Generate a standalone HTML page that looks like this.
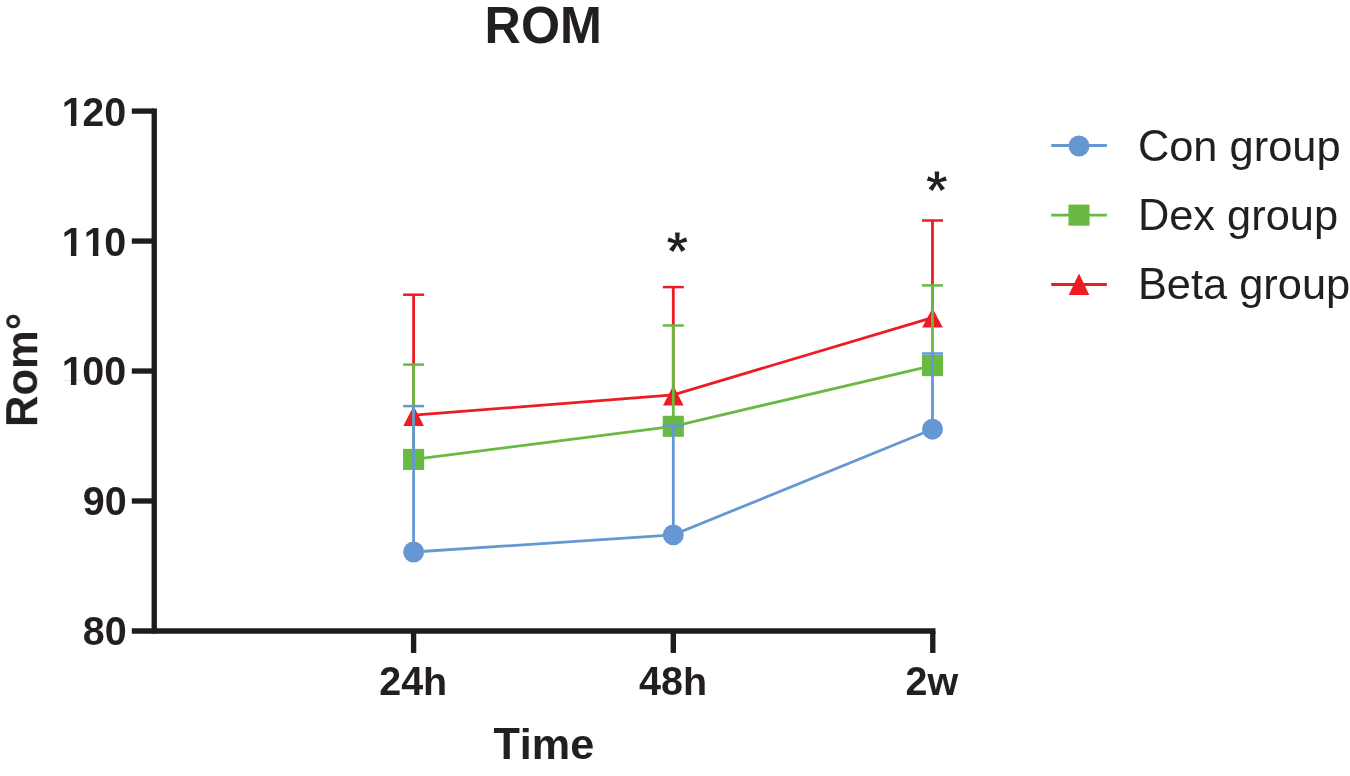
<!DOCTYPE html>
<html>
<head>
<meta charset="utf-8">
<title>ROM</title>
<style>
  html, body { margin: 0; padding: 0; background: #ffffff; }
  body { width: 1350px; height: 776px; overflow: hidden; font-family: "Liberation Sans", sans-serif; }
  svg { display: block; position: absolute; left: 0; top: 0; }
  text { font-family: "Liberation Sans", sans-serif; fill: #231f20; font-kerning: none; }
  .b text { font-weight: bold; }
</style>
</head>
<body>
<svg width="1350" height="776" viewBox="0 0 1350 776">
  <rect x="0" y="0" width="1350" height="776" fill="#ffffff"/>

  <!-- Beta group (red) -->
  <g stroke="#ed1c24" fill="none" stroke-width="2.8">
    <polyline points="413.6,415.2 673.3,394.8 932.5,317.6"/>
    <line x1="413.6" y1="415.2" x2="413.6" y2="294.7"/>
    <line x1="673.3" y1="394.8" x2="673.3" y2="287.1"/>
    <line x1="932.5" y1="317.6" x2="932.5" y2="220.5"/>
    <g stroke-width="2.5">
      <line x1="403.1" y1="294.7" x2="424.1" y2="294.7"/>
      <line x1="662.8" y1="287.1" x2="683.8" y2="287.1"/>
      <line x1="922" y1="220.5" x2="943" y2="220.5"/>
    </g>
  </g>
  <g fill="#ed1c24">
    <polygon points="413.6,406 423.9,426 403.3,426"/>
    <polygon points="673.3,385.5 683.6,405.6 663,405.6"/>
    <polygon points="932.5,308 942.8,327.6 922.2,327.6"/>
  </g>
  <!-- Dex group (green) -->
  <g stroke="#69b942" fill="none" stroke-width="2.8">
    <polyline points="413.6,459.4 673.3,426.3 932.5,365.6"/>
    <line x1="413.6" y1="459.4" x2="413.6" y2="364.6"/>
    <line x1="673.3" y1="426.3" x2="673.3" y2="325.5"/>
    <line x1="932.5" y1="365.6" x2="932.5" y2="285.4"/>
    <g stroke-width="2.5">
      <line x1="403.1" y1="364.6" x2="424.1" y2="364.6"/>
      <line x1="662.8" y1="325.5" x2="683.8" y2="325.5"/>
      <line x1="922" y1="285.4" x2="943" y2="285.4"/>
    </g>
  </g>
  <g fill="#69b942">
    <rect x="403.05" y="448.85" width="21.1" height="21.1"/>
    <rect x="662.75" y="415.75" width="21.1" height="21.1"/>
    <rect x="921.95" y="355.05" width="21.1" height="21.1"/>
  </g>
  <!-- Con group (blue) -->
  <g stroke="#6598d2" fill="none" stroke-width="2.8">
    <polyline points="413.6,552 673.3,534.9 932.5,429.2"/>
    <line x1="413.6" y1="552" x2="413.6" y2="406.1"/>
    <line x1="673.3" y1="534.9" x2="673.3" y2="425.7"/>
    <line x1="932.5" y1="429.2" x2="932.5" y2="353.5"/>
    <g stroke-width="2.5">
      <line x1="403.1" y1="406.1" x2="424.1" y2="406.1"/>
      <line x1="662.8" y1="425.7" x2="683.8" y2="425.7"/>
      <line x1="922" y1="353.5" x2="943" y2="353.5"/>
    </g>
  </g>
  <g fill="#6598d2">
    <circle cx="413.6" cy="552" r="10.45"/>
    <circle cx="673.3" cy="534.9" r="10.45"/>
    <circle cx="932.5" cy="429.2" r="10.45"/>
  </g>
  <!-- Axes -->
  <g stroke="#1f1c1d" stroke-width="5.35" fill="none">
    <line x1="154.25" y1="108.45" x2="154.25" y2="633.62"/>
    <line x1="131.8" y1="630.95" x2="935.45" y2="630.95"/>
    <line x1="131.8" y1="111.1" x2="154.25" y2="111.1"/>
    <line x1="131.8" y1="241.07" x2="154.25" y2="241.07"/>
    <line x1="131.8" y1="371.03" x2="154.25" y2="371.03"/>
    <line x1="131.8" y1="501" x2="154.25" y2="501"/>
    <line x1="413.6" y1="630.95" x2="413.6" y2="652.95"/>
    <line x1="673.3" y1="630.95" x2="673.3" y2="652.95"/>
    <line x1="932.78" y1="630.95" x2="932.78" y2="652.95"/>
  </g>
  <g style="will-change:transform">
  <!-- Tick labels -->
  <g class="b" transform="translate(126.2,125.55)"><text transform="translate(-65.9,0) scale(0.9605,1)" font-size="41.13" dx="1.46 -1.46 0">120</text></g>
  <g fill="#ffffff"><rect x="62.85" y="120.55" width="8.06" height="6.2"/><rect x="76.33" y="120.55" width="7.27" height="6.2"/></g>
  <g class="b" transform="translate(126.2,255.55)"><text transform="translate(-65.9,0) scale(0.9605,1)" font-size="41.13" dx="1.46 0 -1.46">110</text></g>
  <g fill="#ffffff"><rect x="62.85" y="250.55" width="8.06" height="6.2"/><rect x="76.33" y="250.55" width="7.27" height="6.2"/><rect x="84.82" y="250.55" width="8.06" height="6.2"/><rect x="98.3" y="250.55" width="7.27" height="6.2"/></g>
  <g class="b" transform="translate(126.2,385.45)"><text transform="translate(-65.9,0) scale(0.9605,1)" font-size="41.13" dx="1.46 -1.46 0">100</text></g>
  <g fill="#ffffff"><rect x="62.85" y="380.45" width="8.06" height="6.2"/><rect x="76.33" y="380.45" width="7.27" height="6.2"/></g>
  <g class="b" transform="translate(126.7,515.45)"><text transform="translate(-43.94,0) scale(0.9605,1)" font-size="41.13">90</text></g>
  <g class="b" transform="translate(126.7,645.45)"><text transform="translate(-43.94,0) scale(0.9605,1)" font-size="41.13">80</text></g>
  <g class="b" transform="translate(413.2,695)"><text x="-34.03" y="0" font-size="39.5"><tspan font-size="41.13" textLength="43.94" lengthAdjust="spacingAndGlyphs">24</tspan>h</text></g>
  <g class="b" transform="translate(673.1,695)"><text x="-34.03" y="0" font-size="39.5"><tspan font-size="41.13" textLength="43.94" lengthAdjust="spacingAndGlyphs">48</tspan>h</text></g>
  <g class="b" transform="translate(931.9,695)"><text x="-26.35" y="0" font-size="39.5"><tspan font-size="41.13" textLength="21.97" lengthAdjust="spacingAndGlyphs">2</tspan>w</text></g>
  <!-- Titles -->
  <g class="b" transform="translate(543.25,42.9)"><text transform="translate(-58.68,0) scale(0.9605,1)" font-size="52.37">ROM</text></g>
  <g class="b" transform="translate(543.8,759.3)"><text x="-50.41" y="0" font-size="43.2"><tspan font-size="44.98" textLength="26.39" lengthAdjust="spacingAndGlyphs">T</tspan>ime</text></g>
  <g class="b" transform="translate(37.2,370) rotate(-90)"><text x="-57.03" y="0" font-size="43.5"><tspan font-size="45.29" textLength="31.41" lengthAdjust="spacingAndGlyphs">R</tspan>om°</text></g>
  </g>
  <!-- Significance stars -->
  <g class="b" style="will-change:transform" stroke="#ffffff" stroke-width="1">
    <text x="666.6" y="270" font-size="55.5">*</text>
    <text x="926.1" y="209.4" font-size="55.5">*</text>
  </g>
  <!-- Legend -->
  <g stroke-width="2.8" fill="none">
    <line x1="1051.2" y1="145.5" x2="1106.9" y2="145.5" stroke="#6598d2"/>
    <line x1="1051.2" y1="215.15" x2="1106.9" y2="215.15" stroke="#69b942"/>
    <line x1="1051.2" y1="284.5" x2="1106.9" y2="284.5" stroke="#ed1c24"/>
  </g>
  <circle cx="1079" cy="146" r="10.45" fill="#6598d2"/>
  <rect x="1068.45" y="204.6" width="21.1" height="21.1" fill="#69b942"/>
  <g fill="#ed1c24"><polygon points="1079,273.5 1089.3,295.1 1068.7,295.1"/></g>
  <g style="will-change:transform">
  <g transform="translate(1137.9,160.6)"><text x="0" y="0" font-size="43.4"><tspan font-size="45.19" textLength="31.34" lengthAdjust="spacingAndGlyphs">C</tspan>on group</text></g>
  <g transform="translate(1137.9,229.8)"><text x="0" y="0" font-size="43.4"><tspan font-size="45.19" textLength="31.34" lengthAdjust="spacingAndGlyphs">D</tspan>ex group</text></g>
  <g transform="translate(1137.9,299)"><text x="0" y="0" font-size="43.4"><tspan font-size="45.19" textLength="28.95" lengthAdjust="spacingAndGlyphs">B</tspan>eta group</text></g>
  </g>
</svg>
</body>
</html>
